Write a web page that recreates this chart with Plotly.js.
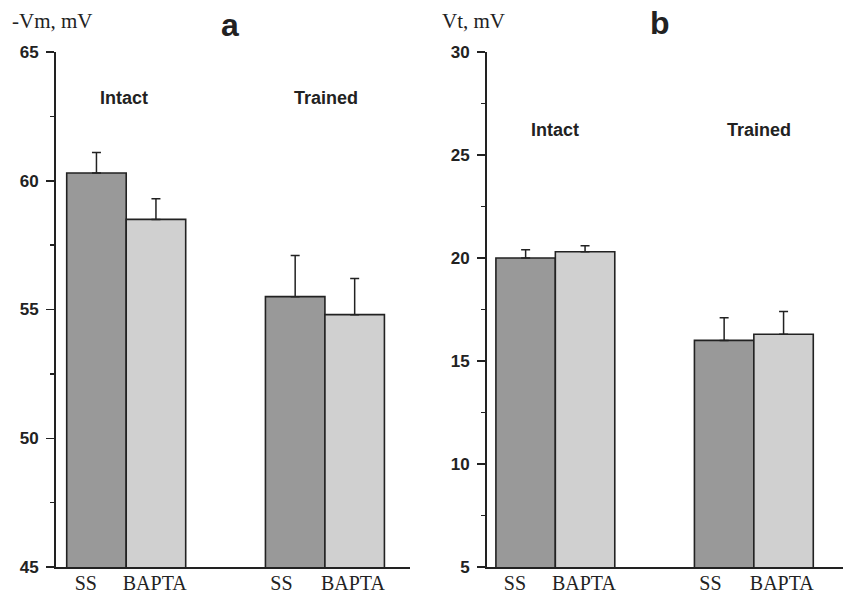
<!DOCTYPE html>
<html>
<head>
<meta charset="utf-8">
<script src="https://cdn.plot.ly/plotly-3.0.1.min.js"></script>
<style>html,body{margin:0;padding:0;background:#fff;}#chart{width:845px;height:596px;}</style>
</head>
<body>
<div id="chart"></div>
<script>
// Data
const groups = ["Intact", "Trained"];
const conditions = ["SS", "BAPTA"];
const tickLabels = ["SS", "BAPTA", "SS", "BAPTA"];
const xPositions = [0, 1, 3.34, 4.34];
const tickPositions = [-0.18, 0.98, 3.11, 4.31];

// Panel a: -Vm, mV
const vmSS = [60.3, 55.5];
const vmSSerr = [0.8, 1.6];
const vmBAPTA = [58.5, 54.8];
const vmBAPTAerr = [0.8, 1.4];

// Panel b: Vt, mV
const vtSS = [20.0, 16.0];
const vtSSerr = [0.4, 1.1];
const vtBAPTA = [20.3, 16.3];
const vtBAPTAerr = [0.3, 1.1];

const colorSS = "#999999";
const colorBAPTA = "#d0d0d0";

function barTrace(xs, ys, errs, color, xa, ya, name) {
  return {
    type: "bar", x: xs, y: ys, width: 1, name: name,
    xaxis: xa, yaxis: ya, showlegend: false,
    marker: {color: color, line: {color: "#222", width: 1.6}},
    error_y: {type: "data", symmetric: false, array: errs, arrayminus: errs.map(() => 0),
      color: "#222", thickness: 1.5, width: 4.5}
  };
}

const ssX = [xPositions[0], xPositions[2]];
const baX = [xPositions[1], xPositions[3]];

const traces = [
  barTrace(ssX, vmSS, vmSSerr, colorSS, "x", "y", conditions[0]),
  barTrace(baX, vmBAPTA, vmBAPTAerr, colorBAPTA, "x", "y", conditions[1]),
  barTrace(ssX, vtSS, vtSSerr, colorSS, "x2", "y2", conditions[0]),
  barTrace(baX, vtBAPTA, vtBAPTAerr, colorBAPTA, "x2", "y2", conditions[1])
];

const W = 845, H = 596;
const sansBold = {family: "Liberation Sans, Arial, sans-serif", size: 17, color: "#222", weight: 700};
const serifFont = {family: "Liberation Serif, Times New Roman, serif", size: 21, color: "#222"};
const xTickFont = {family: "Liberation Serif, Times New Roman, serif", size: 20, color: "#222"};
const labelFont = {family: "Liberation Sans, Arial, sans-serif", size: 18, color: "#222", weight: 700};
const letterFont = {family: "Liberation Sans, Arial, sans-serif", size: 32, color: "#222", weight: 700};

function yAxis(range, anchor) {
  return {
    range: range, anchor: anchor, domain: [29 / H, 1 - 52 / H],
    dtick: 5, tick0: 0, ticks: "outside", ticklen: 8, tickwidth: 1.5, tickcolor: "#222",
    showline: true, linecolor: "#222", linewidth: 2, showgrid: false, zeroline: false,
    tickfont: sansBold, ticklabelstandoff: 4,
    minor: {dtick: 2.5, ticks: "outside", ticklen: 4, tickwidth: 1.5, tickcolor: "#222", showgrid: false},
    fixedrange: true
  };
}

function xAxis(range, domain, anchor) {
  return {
    range: range, domain: domain, anchor: anchor,
    tickvals: tickPositions, ticktext: tickLabels, ticks: "",
    showline: true, linecolor: "#222", linewidth: 2, showgrid: false, zeroline: false,
    tickfont: xTickFont, ticklabelstandoff: -3, fixedrange: true
  };
}

const layout = {
  width: W, height: H,
  margin: {l: 0, r: 0, t: 0, b: 0},
  paper_bgcolor: "#fff", plot_bgcolor: "#fff",
  bargap: 0,
  xaxis: xAxis([-0.68, 5.27], [56 / W, 410 / W], "y"),
  yaxis: yAxis([45, 65], "x"),
  xaxis2: xAxis([-0.65, 5.34], [487 / W, 843 / W], "y2"),
  yaxis2: yAxis([5, 30], "x2"),
  annotations: [
    {text: "-Vm, mV", xref: "paper", yref: "paper", x: 10 / W, y: 1 - 21 / H, xanchor: "left", yanchor: "middle", showarrow: false, font: serifFont},
    {text: "Vt, mV", xref: "paper", yref: "paper", x: 440 / W, y: 1 - 21 / H, xanchor: "left", yanchor: "middle", showarrow: false, font: serifFont},
    {text: "a", xref: "paper", yref: "paper", x: 230 / W, y: 1 - 25 / H, xanchor: "center", yanchor: "middle", showarrow: false, font: letterFont},
    {text: "b", xref: "paper", yref: "paper", x: 660 / W, y: 1 - 23 / H, xanchor: "center", yanchor: "middle", showarrow: false, font: letterFont},
    {text: groups[0], xref: "x", yref: "paper", x: 0.46, y: 1 - 98 / H, xanchor: "center", yanchor: "middle", showarrow: false, font: labelFont},
    {text: groups[1], xref: "x", yref: "paper", x: 3.86, y: 1 - 98 / H, xanchor: "center", yanchor: "middle", showarrow: false, font: labelFont},
    {text: groups[0], xref: "x2", yref: "paper", x: 0.5, y: 1 - 130 / H, xanchor: "center", yanchor: "middle", showarrow: false, font: labelFont},
    {text: groups[1], xref: "x2", yref: "paper", x: 3.92, y: 1 - 130 / H, xanchor: "center", yanchor: "middle", showarrow: false, font: labelFont}
  ]
};

Plotly.newPlot("chart", traces, layout, {displayModeBar: false, staticPlot: true});
</script>
</body>
</html>
